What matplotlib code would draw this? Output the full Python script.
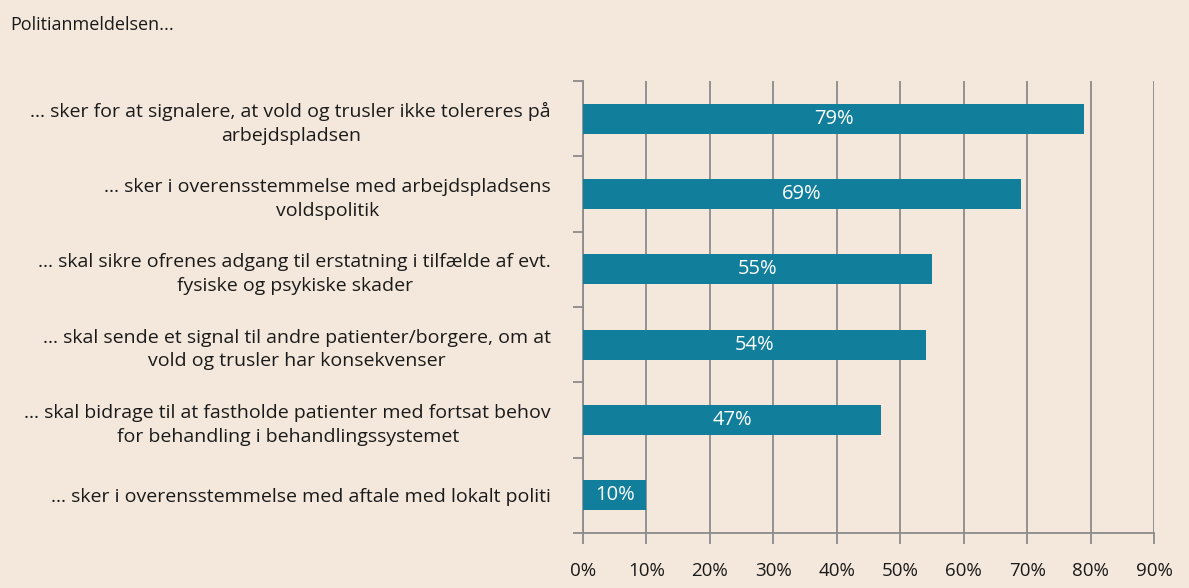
import matplotlib
matplotlib.use("Agg")
import matplotlib.pyplot as plt
import numpy as np

categories = [
    "... sker for at signalere, at vold og trusler ikke tolereres på\narbejdspladsen",
    "... sker i overensstemmelse med arbejdspladsens\nvoldspolitik",
    "... skal sikre ofrenes adgang til erstatning i tilfælde af evt.\nfysiske og psykiske skader",
    "... skal sende et signal til andre patienter/borgere, om at\nvold og trusler har konsekvenser",
    "... skal bidrage til at fastholde patienter med fortsat behov\nfor behandling i behandlingssystemet",
    "... sker i overensstemmelse med aftale med lokalt politi",
]
values = [79, 69, 55, 54, 47, 10]
xticks = [0, 10, 20, 30, 40, 50, 60, 70, 80, 90]
title = "Politianmeldelsen..."

BG = "#F4E8DC"
BAR = "#117F9B"
GRID = "#8C8C8C"
FONT = "Open Sans"
TXT = "#1a1a1a"

fig = plt.figure(figsize=(11.89, 5.88), dpi=100, facecolor=BG)
ax = fig.add_axes([583/1189, 1-533/588, (1154-583)/1189, (533-81)/588])
ax.set_facecolor(BG)

n = len(categories)
y = np.arange(n)[::-1]
ax.barh(y, values, height=0.4, color=BAR, zorder=3)
for yi, v in zip(y, values):
    ax.text(v/2, yi, f"{v}%", ha="center", va="center", color="white",
            fontsize=14.5, family=FONT, zorder=4)

ax.set_xlim(0, 90)
ax.set_ylim(-0.5, n-0.5)
ax.set_xticks(xticks)
ax.set_xticklabels([f"{t}%" for t in xticks], fontsize=13.5, family=FONT, color=TXT)
ax.grid(axis="x", color=GRID, linewidth=1.3, zorder=0)
ax.set_axisbelow(True)

ax.set_yticks(y)
ax.set_yticklabels(categories, fontsize=14, family=FONT, color=TXT,
                   ha="right", multialignment="center", linespacing=1.4)
ax.set_yticks(np.arange(n+1)-0.5, minor=True)
ax.tick_params(axis="y", which="major", length=0, pad=23)
ax.tick_params(axis="y", which="minor", length=7, width=1.3, color=GRID)
ax.tick_params(axis="x", length=8, width=1.3, color=GRID, pad=13)

for s in ["top", "right"]:
    ax.spines[s].set_visible(False)
for s in ["left", "bottom"]:
    ax.spines[s].set_color(GRID)
    ax.spines[s].set_linewidth(1.3)

fig.text(10/1189, 1-25/588, title, fontsize=13, family=FONT, color=TXT,
         ha="left", va="center")

fig.savefig("out.png", dpi=100, facecolor=BG)
